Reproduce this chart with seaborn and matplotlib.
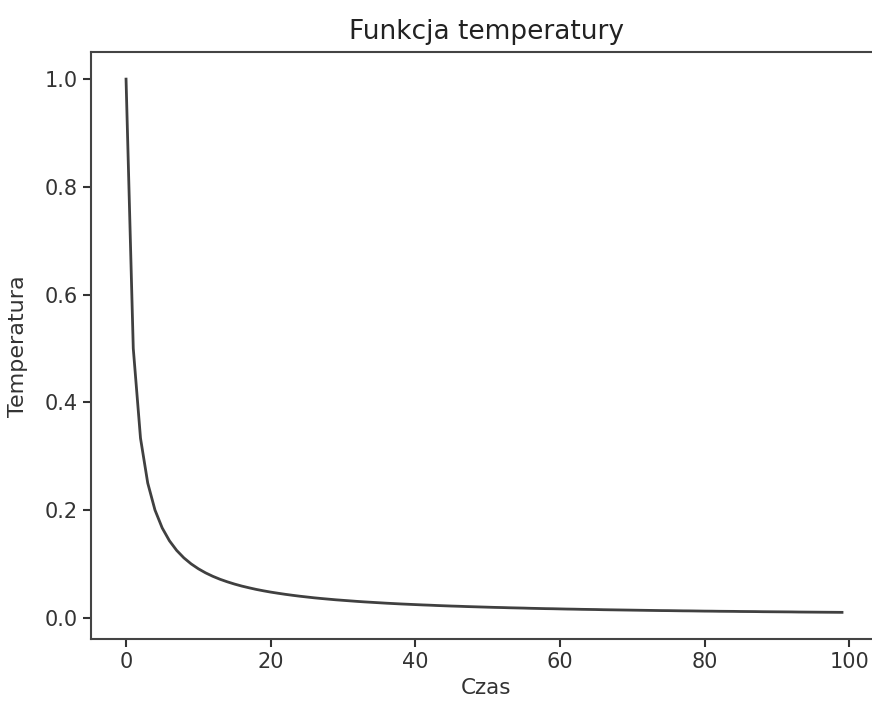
import numpy as np
import pandas as pd
import matplotlib
matplotlib.use("Agg")
import matplotlib.pyplot as plt
import seaborn as sns

# time steps and temperature
czas = list(range(100))
temperatura = [
    1.0, 0.5, 0.3333, 0.25, 0.2, 0.1667, 0.1429, 0.125, 0.1111, 0.1,
    0.0909, 0.0833, 0.0769, 0.0714, 0.0667, 0.0625, 0.0588, 0.0556, 0.0526, 0.05,
    0.0476, 0.0455, 0.0435, 0.0417, 0.04, 0.0385, 0.037, 0.0357, 0.0345, 0.0333,
    0.0323, 0.0313, 0.0303, 0.0294, 0.0286, 0.0278, 0.027, 0.0263, 0.0256, 0.025,
    0.0244, 0.0238, 0.0233, 0.0227, 0.0222, 0.0217, 0.0213, 0.0208, 0.0204, 0.02,
    0.0196, 0.0192, 0.0189, 0.0185, 0.0182, 0.0179, 0.0175, 0.0172, 0.0169, 0.0167,
    0.0164, 0.0161, 0.0159, 0.0156, 0.0154, 0.0152, 0.0149, 0.0147, 0.0145, 0.0143,
    0.0141, 0.0139, 0.0137, 0.0135, 0.0133, 0.0132, 0.013, 0.0128, 0.0127, 0.0125,
    0.0123, 0.0122, 0.012, 0.0119, 0.0118, 0.0116, 0.0115, 0.0114, 0.0112, 0.0111,
    0.011, 0.0109, 0.0108, 0.0106, 0.0105, 0.0104, 0.0103, 0.0102, 0.0101, 0.01,
]

df = pd.DataFrame({"Czas": czas, "Temperatura": temperatura})

plt.rcParams['font.family'] = ['DejaVu Sans']
fig = plt.figure(figsize=(8.72, 7.05), dpi=100)
# right spine falls just outside the picture, as in the reference crop
ax = fig.add_axes([0.1044, 0.0936, 0.906, 0.832])

sns.lineplot(data=df, x="Czas", y="Temperatura", color="#404040", linewidth=2, ax=ax)

ax.set_xlim(-4.84, 104.4)
ax.set_title("Funkcja temperatury", fontsize=19, color="#222222", pad=10)
ax.set_xlabel("Czas", fontsize=15.5, color="#333333")
ax.set_ylabel("Temperatura", fontsize=16, color="#333333", labelpad=12)
ax.tick_params(labelsize=15, colors="#333333", width=1.5, length=6)
ax.set_xticks([0, 20, 40, 60, 80, 100])
ax.set_yticks([0.0, 0.2, 0.4, 0.6, 0.8, 1.0])
for s in ax.spines.values():
    s.set_color("#444444")
    s.set_linewidth(1.5)

fig.savefig("out.png", dpi=100)
